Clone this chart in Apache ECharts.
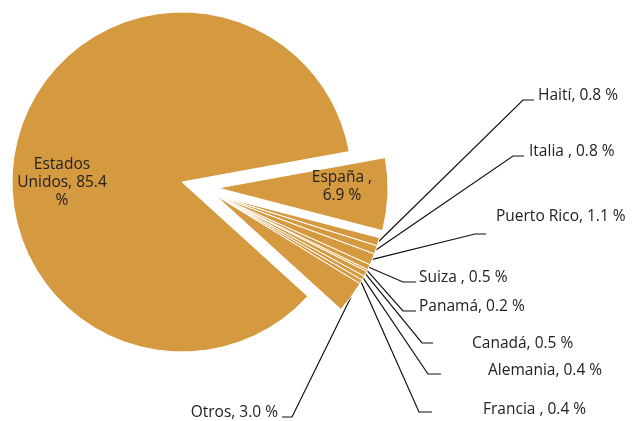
<!DOCTYPE html>
<html>
<head>
<meta charset="utf-8">
<script src="https://cdn.jsdelivr.net/npm/echarts@6/dist/echarts.min.js"></script>
<style>
  html, body { margin: 0; padding: 0; background: #fff; }
  #chart { width: 633px; height: 421px; }
</style>
</head>
<body>
<div id="chart"></div>
<script>
// data, clockwise from España
const countries = ['España', 'Haití', 'Italia', 'Puerto Rico', 'Suiza', 'Panamá', 'Canadá', 'Alemania', 'Francia', 'Otros', 'Estados Unidos']
const shares = [6.9, 0.8, 0.8, 1.1, 0.5, 0.2, 0.5, 0.4, 0.4, 3.0, 85.4]
// label prefixes as written in the source (some have a space before the comma)
const labelPrefix = ['España ,\n', 'Haití, ', 'Italia , ', 'Puerto Rico, ', 'Suiza , ', 'Panamá, ', 'Canadá, ', 'Alemania, ', 'Francia , ', 'Otros, ', 'Estados\nUnidos, ']

// layout: the pie is drawn in three exploded pieces, each its own center
const COLOR = '#D5993F'
const pieceCenters = [[182, 182], [218, 188], [215, 195]]
const pieceOf = [1, 2, 2, 2, 2, 2, 2, 2, 2, 2, 0]
const labelSpots = [
  { x: 342, y: 187, align: 'center' },
  { x: 538, y: 96, bend: [523, 100], end: [534, 100] },
  { x: 529, y: 152, bend: [513, 156], end: [524, 156] },
  { x: 496, y: 217, bend: [475, 234], end: [486, 234] },
  { x: 419, y: 278, bend: [403, 282], end: [416, 282] },
  { x: 419, y: 307, bend: [403, 311], end: [416, 311] },
  { x: 472, y: 344, bend: [422, 343], end: [433, 343] },
  { x: 488, y: 371, bend: [428, 374], end: [441, 374] },
  { x: 483, y: 410, bend: [419, 412], end: [432, 412] },
  { x: 278, y: 413, align: 'right', bend: [292, 417], end: [282, 417] },
  { x: 62, y: 183, align: 'center' }
]

const chart = echarts.init(document.getElementById('chart'))

const series = pieceCenters.map((center, p) => ({
  type: 'pie',
  center,
  radius: 170,
  startAngle: 10.3,
  clockwise: true,
  silent: true,
  avoidLabelOverlap: false,
  animation: false,
  label: {
    color: '#222',
    fontFamily: 'Open Sans',
    fontSize: 15.5,
    lineHeight: 18,
    formatter: (d) => labelPrefix[d.dataIndex] + d.value.toFixed(1) + (d.dataIndex === 10 ? '\n%' : ' %')
  },
  labelLine: { lineStyle: { color: '#111', width: 1.2 } },
  labelLayout: (params) => {
    const s = labelSpots[params.dataIndex]
    const out = { x: s.x, y: s.y, align: s.align || 'left', verticalAlign: 'middle' }
    if (s.bend && params.labelLinePoints) {
      out.labelLinePoints = [params.labelLinePoints[0], s.bend, s.end]
    }
    return out
  },
  data: countries.map((name, i) => {
    const mine = pieceOf[i] === p
    const outside = !!labelSpots[i].bend
    return {
      name,
      value: shares[i],
      itemStyle: mine
        ? { color: COLOR, borderColor: '#fff', borderWidth: 1 }
        : { color: 'rgba(0,0,0,0)', borderWidth: 0 },
      label: { show: mine, position: outside ? 'outside' : 'inside' },
      labelLine: { show: mine && outside }
    }
  })
}))

chart.setOption({ animation: false, series })
</script>
</body>
</html>
